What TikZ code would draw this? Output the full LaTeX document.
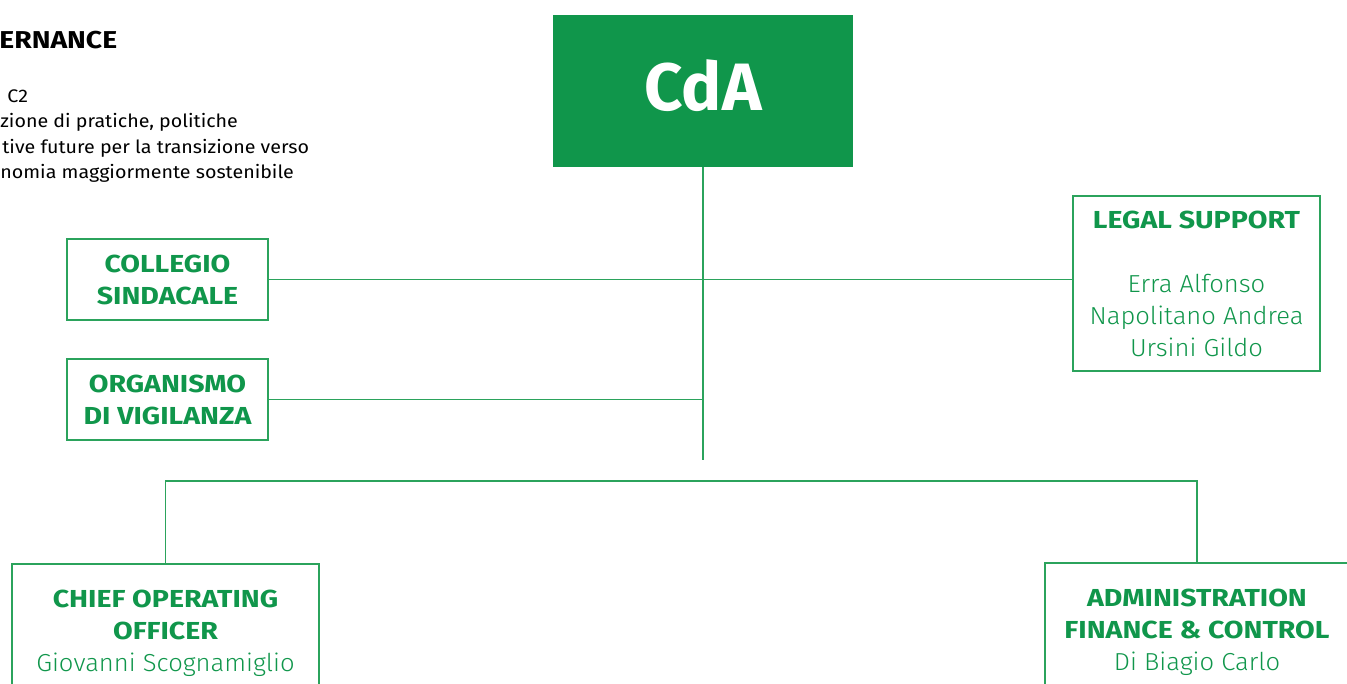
\documentclass[tikz,border=0pt]{standalone}
\usepackage{fontspec}
\setmainfont[FakeStretch=1.04]{Fira Sans Light}
\newfontfamily\headfont[FakeStretch=1.16]{Fira Sans}
\newfontfamily\introfont[FakeStretch=1.08]{Fira Sans}
\newfontfamily\logofont{Fira Sans}
\definecolor{cdagreen}{HTML}{10964B}
\definecolor{linegreen}{HTML}{2BA35C}
\tikzset{
  orgbox/.style={draw=linegreen,line width=.75pt,rectangle,inner sep=0pt,
    align=center,text=cdagreen,font=\fontsize{12.3}{16}\selectfont},
  link/.style={draw=linegreen,line width=.75pt}
}
\newcommand{\boss}[1]{{\headfont\bfseries #1}}
\begin{document}
\begin{tikzpicture}
  [x=.5pt,y=-.5pt]
  \useasboundingbox (0,0) rectangle (1347,684);
  \clip (0,0) rectangle (1347,684);
  % heading, cut by the page edge
  \node (head)[anchor=base west,inner sep=0pt,font=\headfont\bfseries\fontsize{12.2}{14}\selectfont] at (-1,49) {ERNANCE};
  \node (intro)[anchor=base west,inner sep=0pt,align=left,font=\introfont\fontsize{9.1}{12.75}\selectfont] at (0,179)
    {\hspace{3.5pt}C2\\zione di pratiche, politiche\\\hspace{1pt}tive future per la transizione verso\\nomia maggiormente sostenibile};
  % boxes
  \node (cda)[rectangle,fill=cdagreen,minimum width=150pt,minimum height=76pt,text=white,text depth=6pt,
    font=\logofont\bfseries\fontsize{33.5}{34}\selectfont] at (703,91) {CdA};
  \node (collegio)[orgbox,minimum width=100.5pt,minimum height=40.5pt] at (167.5,279.5) {\boss{COLLEGIO}\\\boss{SINDACALE}};
  \node (organismo)[orgbox,minimum width=100.5pt,minimum height=40.5pt] at (167.5,399.5) {\boss{ORGANISMO}\\\boss{DI VIGILANZA}};
  \node (legal)[orgbox,minimum width=123.5pt,minimum height=87.5pt] at (1196.5,283.5)
    {\boss{LEGAL SUPPORT}\\[16pt]Erra Alfonso\\Napolitano Andrea\\Ursini Gildo};
  \node (coo)[orgbox,minimum width=153.5pt,minimum height=69pt] at (165.5,633)
    {\boss{CHIEF OPERATING}\\\boss{OFFICER}\\Giovanni Scognamiglio};
  \node (afc)[orgbox,minimum width=152pt,minimum height=69pt] at (1197,632)
    {\boss{ADMINISTRATION}\\\boss{FINANCE \& CONTROL}\\Di Biagio Carlo};
  % connectors
  \coordinate (stem) at (703,460);
  \coordinate (bus) at (0,481);
  \draw[link] (cda.south) -- (stem);
  \draw[link] (collegio.east) -- (collegio.east -| legal.west);
  \draw[link] (organismo.east) -- (organismo.east -| cda.south);
  \draw[link] (coo.north) -- (coo.north |- bus) -- (afc.north |- bus) -- (afc.north);
\end{tikzpicture}
\end{document}
